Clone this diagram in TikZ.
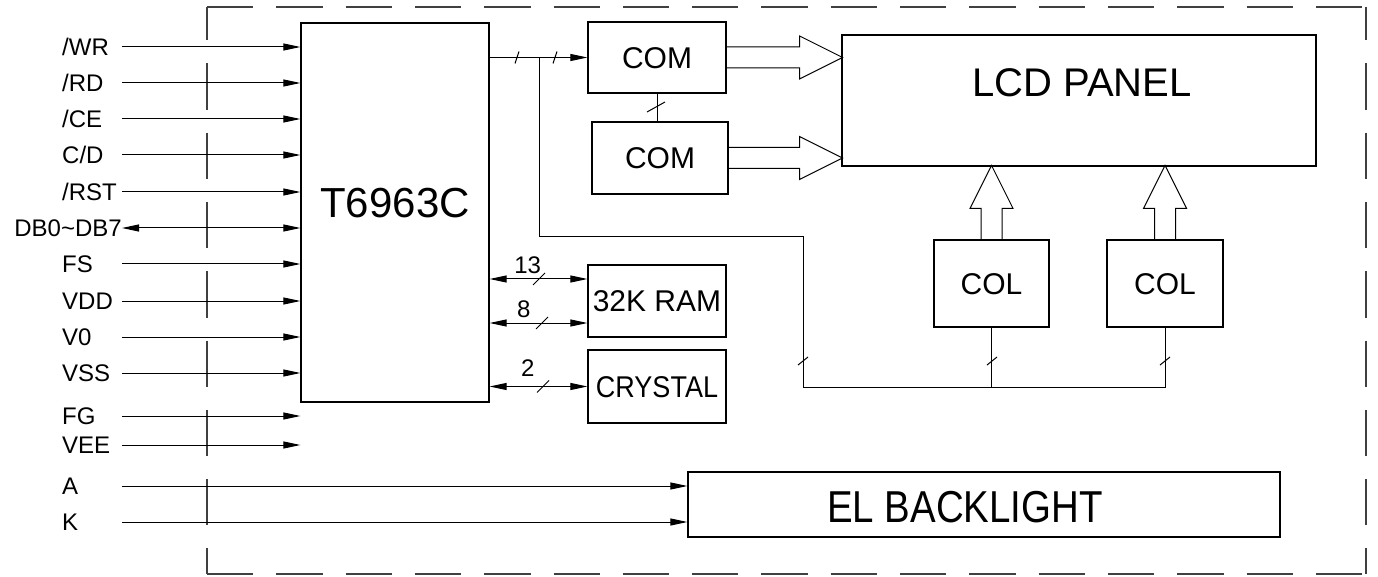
\documentclass[tikz,border=0pt]{standalone}
\usepackage{fontspec}
\setmainfont{Liberation Sans}
\newfontfamily\narrowfont[FakeStretch=0.86]{Liberation Sans}
\newfontfamily\slimfont[FakeStretch=0.9]{Liberation Sans}
\usetikzlibrary{arrows.meta,calc,positioning}
\tikzset{block/.style={
            draw,
            line width=1.2pt,
            inner sep=0pt,
            text height=21.5pt,
            text depth=0pt,
            font=\fontsize{30}{32}\selectfont
        },
        bigtext/.style={
            inner sep=0pt,
            text height=30pt,
            text depth=0pt,
            font=\fontsize{42}{44}\selectfont
        },
        pintext/.style={
            inner sep=0pt,
            text height=17.2pt,
            text depth=0pt,
            font=\fontsize{24}{26}\selectfont
        },
        pinlabel/.style={
            anchor=west,
            text width=60pt
        },
        wire/.style={
            line width=1pt
        },
        sig/.style={
            wire,
            -{Triangle[length=17pt,width=7pt]}
        },
        both/.style={
            wire,
            {Triangle[length=17pt,width=7pt]}-{Triangle[length=17pt,width=7pt]}
        },
        dashframe/.style={
            draw=black!75,
            line width=1.3pt,
            dash pattern=on 46.3pt off 23pt
        },
        pics/slash/.style 2 args={code={
            \draw[wire] (-#1,#2) -- (#1,-#2);
        }},
        pics/fatarrow/.style={code={
            \draw[wire] (0,-10.5) -- (#1-43,-10.5) -- (#1-43,-21.5) -- (#1,0)
                -- (#1-43,21.5) -- (#1-43,10.5) -- (0,10.5);
        }}
    }
\begin{document}
\begin{tikzpicture}[x=1pt,y=-1pt]
        \useasboundingbox (0,0) rectangle (1378,577);
        % module outline
        \draw[dashframe] (207,7) -- (1366,7);
        \draw[dashframe] (207,574) -- (1366,574);
        \draw[dashframe, dash phase=13pt] (207,7) -- (207,574);
        \draw[dashframe, dash phase=13pt] (1366,7) -- (1366,574);

        % blocks
        \node[block, minimum width=188pt, minimum height=379pt,
            label={[bigtext, yshift=9.5pt]center:T6963C}] (chip) at (395,212.5) {};
        \node[block, minimum width=138pt, minimum height=71pt] (com1) at (657,57.5) {COM};
        \node[block, minimum width=136pt, minimum height=72pt] (com2) at (660,158) {COM};
        \node[block, minimum width=474pt, minimum height=131pt,
            label={[bigtext, font=\fontsize{40}{42}\selectfont, text height=28.6pt, xshift=3pt, yshift=18.5pt]center:LCD PANEL}] (lcd) at (1079,100.5) {};
        \node[block, minimum width=115pt, minimum height=87pt] (col1) at (991.5,283.5) {COL};
        \node[block, minimum width=116pt, minimum height=87pt] (col2) at (1165,283.5) {COL};
        \node[block, minimum width=138pt, minimum height=72pt] (ram) at (657,301) {32K RAM};
        \node[block, minimum width=138pt, minimum height=73pt,
            font=\slimfont\fontsize{30}{32}\selectfont] (xtal) at (657,386.5) {CRYSTAL};
        \node[block, minimum width=592pt, minimum height=65pt,
            label={[bigtext, font=\narrowfont\fontsize{44.7}{46}\selectfont, text height=32pt, xshift=-19pt, yshift=-1.5pt]center:EL BACKLIGHT}] (bl) at (984,504.5) {};

        % interface pins
        \node[pintext, pinlabel] (wr) at (62,47) {/WR};
        \node[pintext, pinlabel] (rd) at (62,83) {/RD};
        \node[pintext, pinlabel] (ce) at (62,119) {/CE};
        \node[pintext, pinlabel] (cd) at (62,155) {C/D};
        \node[pintext, pinlabel] (rst) at (62,192) {/RST};
        \node[pintext, anchor=east] (db) at (122,228) {DB0\textasciitilde DB7};
        \node[pintext, pinlabel] (fs) at (62,264) {FS};
        \node[pintext, pinlabel] (vdd) at (62,301) {VDD};
        \node[pintext, pinlabel] (vo) at (62,337) {V0};
        \node[pintext, pinlabel] (vss) at (62,373) {VSS};
        \node[pintext, pinlabel] (fg) at (62,416) {FG};
        \node[pintext, pinlabel] (vee) at (62,445) {VEE};
        \node[pintext, pinlabel] (a) at (62,486) {A};
        \node[pintext, pinlabel] (k) at (62,522) {K};

        \draw[sig] (wr.east) -- (wr.east -| chip.west);
        \draw[sig] (rd.east) -- (rd.east -| chip.west);
        \draw[sig] (ce.east) -- (ce.east -| chip.west);
        \draw[sig] (cd.east) -- (cd.east -| chip.west);
        \draw[sig] (rst.east) -- (rst.east -| chip.west);
        \draw[both] (db.east) -- (db.east -| chip.west);
        \draw[sig] (fs.east) -- (fs.east -| chip.west);
        \draw[sig] (vdd.east) -- (vdd.east -| chip.west);
        \draw[sig] (vo.east) -- (vo.east -| chip.west);
        \draw[sig] (vss.east) -- (vss.east -| chip.west);
        \draw[sig] (fg.east) -- (fg.east -| chip.west);
        \draw[sig] (vee.east) -- (vee.east -| chip.west);
        \draw[sig] (a.east) -- (a.east -| bl.west);
        \draw[sig] (k.east) -- (k.east -| bl.west);

        % common and column drivers
        \coordinate (tap) at ([xshift=50pt]chip.east |- com1.west);
        \coordinate (turn) at (803,237);
        \coordinate (colbus) at (803,387);
        \draw[sig] (chip.east |- com1.west) -- (com1.west);
        \draw[wire] (tap) |- (turn) -- (colbus) -| (col2.south);
        \draw[wire] (col1.south) -- (col1.south |- colbus);
        \draw[wire] (com1.south) -- (com1.south |- com2.north);

        \pic at (517,57.5) {slash={2}{6}};
        \pic at (555,57.5) {slash={2}{6}};
        \pic at (656,107) {slash={9}{5}};
        \pic at (803,361) {slash={5}{4}};
        \pic at (992,361) {slash={5}{4}};
        \pic at (1165,361) {slash={5}{4}};

        \pic at (com1.east) {fatarrow=116};
        \pic at (com2.east) {fatarrow=114};
        \pic[rotate=90] at (col1.north) {fatarrow=74};
        \pic[rotate=90] at (col2.north) {fatarrow=74};

        % memory and clock
        \coordinate (r13) at ($(ram.west)+(0,-22)$);
        \coordinate (r8) at ($(ram.west)+(0,22)$);
        \draw[both] (chip.east |- r13) -- (r13)
            node[pintext, pos=0.39, above=5.5pt] (n13) {13};
        \draw[both] (chip.east |- r8) -- (r8)
            node[pintext, pos=0.35, above=5.5pt] (n8) {8};
        \draw[both] (chip.east |- xtal.west) -- (xtal.west)
            node[pintext, pos=0.39, above=9.5pt] (n2) {2};

        \pic at (539,279) {slash={6}{6}};
        \pic at (542,323) {slash={6}{6}};
        \pic at (543,386.5) {slash={6}{6}};

    \end{tikzpicture}
\end{document}
